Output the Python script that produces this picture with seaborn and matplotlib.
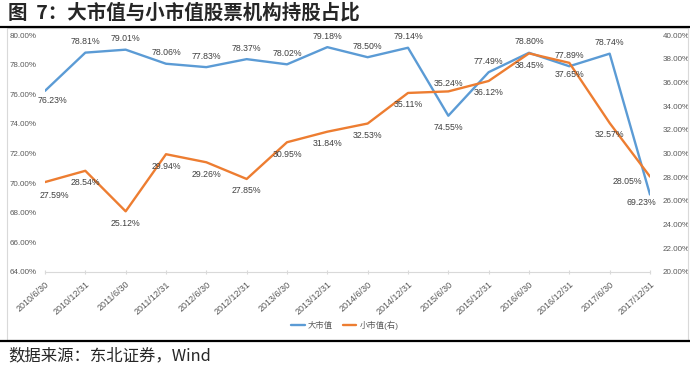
import matplotlib
matplotlib.use('Agg')
import matplotlib.pyplot as plt
import seaborn as sns
import pandas as pd
from matplotlib.patches import Rectangle
from matplotlib.lines import Line2D
from matplotlib.ticker import FuncFormatter

# ---- data ----
dates = ['2010/6/30', '2010/12/31', '2011/6/30', '2011/12/31', '2012/6/30',
         '2012/12/31', '2013/6/30', '2013/12/31', '2014/6/30', '2014/12/31',
         '2015/6/30', '2015/12/31', '2016/6/30', '2016/12/31', '2017/6/30',
         '2017/12/31']
large_cap = [76.23, 78.81, 79.01, 78.06, 77.83, 78.37, 78.02, 79.18,
             78.50, 79.14, 74.55, 77.49, 78.80, 77.89, 78.74, 69.23]
small_cap = [27.59, 28.54, 25.12, 29.94, 29.26, 27.85, 30.95, 31.84,
             32.53, 35.11, 35.24, 36.12, 38.45, 37.65, 32.57, 28.05]
series_names = ['大市值', '小市值(右)']
left_ticks = [64, 66, 68, 70, 72, 74, 76, 78, 80]
right_ticks = [20, 22, 24, 26, 28, 30, 32, 34, 36, 38, 40]
title_text = '图  7：大市值与小市值股票机构持股占比'
source_text = '数据来源：东北证券，Wind'

# ---- styles ----
BLUE = '#5B9BD5'
ORANGE = '#ED7D31'
GRAY = '#595959'
LIGHT = '#D9D9D9'
A, B = (0, 8), (0, -8.5)
blue_label_off = [(5, -7), A, A, A, A, A, A, A, A, A, B, A, A, A, A, (-6, -6)]
orange_label_off = [(7, -9.5), B, B, B, B, B, B, B, B, B, (0, 6), B, B, B, B, (-16, -3.5)]

sns.set_theme(style='white')
plt.rcParams['font.family'] = ['Liberation Sans', 'Noto Sans CJK SC', 'DejaVu Sans']

fig = plt.figure(figsize=(6.9, 3.74), dpi=100)
ax = fig.add_axes([45 / 690, 1 - 272 / 374, 605 / 690, 237 / 374])
ax2 = ax.twinx()

df = pd.DataFrame({'idx': list(range(len(dates))), 'large': large_cap, 'small': small_cap})
sns.lineplot(data=df, x='idx', y='large', ax=ax, color=BLUE, linewidth=1.7)
sns.lineplot(data=df, x='idx', y='small', ax=ax2, color=ORANGE, linewidth=1.7)

ax.set_xlim(0, len(dates) - 1)
ax.set_ylim(left_ticks[0], left_ticks[-1])
ax2.set_ylim(right_ticks[0], right_ticks[-1])
ax.set_yticks(left_ticks)
ax2.set_yticks(right_ticks)
pct = FuncFormatter(lambda v, p: f'{v:.2f}%')
ax.yaxis.set_major_formatter(pct)
ax2.yaxis.set_major_formatter(pct)
ax.set_xticks(range(len(dates)))
ax.set_xticklabels(dates, rotation=42, ha='right', rotation_mode='anchor')

for a in (ax, ax2):
    a.set_xlabel('')
    a.set_ylabel('')
    for s in a.spines.values():
        s.set_visible(False)
    a.grid(False)
ax.spines['bottom'].set_visible(True)
ax.spines['bottom'].set_color(LIGHT)
ax.spines['bottom'].set_linewidth(0.8)
ax.tick_params(axis='x', colors=LIGHT, labelcolor=GRAY, labelsize=6.5,
               length=3, width=0.8, direction='inout', bottom=True, pad=4)
ax.tick_params(axis='y', labelcolor=GRAY, labelsize=5.8, length=0, pad=6)
ax2.tick_params(axis='y', labelcolor=GRAY, labelsize=5.8, length=0, pad=9)

for i, v in enumerate(large_cap):
    ax.annotate(f'{v:.2f}%', (i, v), xytext=blue_label_off[i], textcoords='offset points',
                ha='center', va='center', fontsize=6.3, color='#404040')
for i, v in enumerate(small_cap):
    ax2.annotate(f'{v:.2f}%', (i, v), xytext=orange_label_off[i], textcoords='offset points',
                 ha='center', va='center', fontsize=6.3, color='#404040')

handles = [Line2D([], [], color=BLUE, lw=1.7), Line2D([], [], color=ORANGE, lw=1.7)]
fig.legend(handles, series_names, loc='center', bbox_to_anchor=(0.5, 1 - 325 / 374),
           ncol=2, frameon=False, fontsize=6, handlelength=1.6, columnspacing=1.2,
           handletextpad=0.4, labelcolor=GRAY)

# frame and rules
fig.add_artist(Rectangle((7 / 690, 1 - 340 / 374), 681 / 690, 312 / 374, fill=False,
                         ec=LIGHT, lw=0.8, transform=fig.transFigure))
fig.add_artist(Line2D([0.0, 1.0], [1 - 27 / 374] * 2, color='black', lw=1.6,
                      transform=fig.transFigure))
fig.add_artist(Line2D([0.0, 1.0], [1 - 341 / 374] * 2, color='black', lw=1.6,
                      transform=fig.transFigure))

fig.text(8 / 690, 1 - 13 / 374, title_text, fontsize=14, fontweight='bold', va='center',
         ha='left', family=['Noto Sans CJK SC', 'DejaVu Sans'])
fig.text(8 / 690, 1 - 356 / 374, source_text, fontsize=11.8, va='center', ha='left',
         family=['Noto Sans CJK SC', 'DejaVu Sans'])

fig.savefig('out.png', dpi=100)
